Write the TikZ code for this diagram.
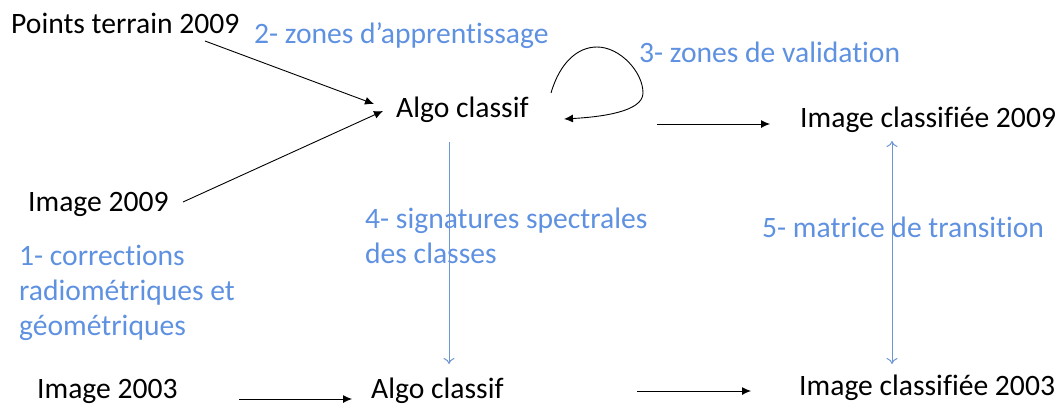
\documentclass[tikz,border=0pt]{standalone}
\usepackage{fontspec}
\setmainfont{Carlito}[Ligatures=NoCommon]
\usetikzlibrary{arrows.meta}
\definecolor{bluetxt}{RGB}{95,145,225}
\definecolor{blueline}{RGB}{110,150,215}
\tikzset{
  lbl/.style={anchor=base west, inner sep=0pt, font=\fontsize{29.6}{35}\selectfont},
  blk/.style={lbl, text=black},
  blu/.style={lbl, text=bluetxt},
  blkarrow/.style={draw=black, line width=0.9pt, -{Latex[length=9pt,width=8pt]}},
  bluarrow/.style={draw=blueline, line width=1pt, -{To[length=6pt,width=11pt]}},
  bluboth/.style={draw=blueline, line width=1pt, {To[length=6pt,width=11pt]}-{To[length=6pt,width=11pt]}}
}
\begin{document}
\begin{tikzpicture}[x=1pt,y=-1pt]
\useasboundingbox (0,0) rectangle (1059,407);
% black texts
\node[blk] (pts) at (11,33) {Points terrain 2009};
\node[blk] (img09) at (28,211) {Image 2009};
\node[blk] (algo1) at (396,117) {Algo classif};
\node[blk] (ic09) at (800,127) {Image classifiée 2009};
\node[blk] (img03) at (37,398.5) {Image 2003};
\node[blk] (algo2) at (371,398.5) {Algo classif};
\node[blk] (ic03) at (799,395) {Image classifiée 2003};
% blue texts
\node[blu] (t2) at (254,43) {2- zones d’apprentissage};
\node[blu] (t3) at (639,62) {3- zones de validation};
\node[blu] (t4a) at (365,228) {4- signatures spectrales};
\node[blu] (t4b) at (365,263) {des classes};
\node[blu] (t5) at (762,237) {5- matrice de transition};
\node[blu] (t1a) at (19,265) {1- corrections};
\node[blu] (t1b) at (19,300) {radiométriques et};
\node[blu] (t1c) at (19,335) {géométriques};
% connector end points
\coordinate (p1s) at (205,41);
\coordinate (p1e) at (374,104);
\coordinate (p2s) at (183,202);
\coordinate (p2e) at (383,111);
\coordinate (ls) at (551,93);
\coordinate (le) at (564,119);
\coordinate (r1s) at (657,124);
\coordinate (r1e) at (770,124);
\coordinate (v1s) at (449,142);
\coordinate (v1e) at (449,364);
\coordinate (v2s) at (892,141);
\coordinate (v2e) at (892,364);
\coordinate (b1s) at (239,399);
\coordinate (b1e) at (352,399);
\coordinate (b2s) at (637,391);
\coordinate (b2e) at (751,391);
% connectors
\draw[blkarrow] (p1s) -- (p1e);
\draw[blkarrow] (p2s) -- (p2e);
\draw[blkarrow] (ls) .. controls (560,62) and (578,47) .. (597,47)
  .. controls (620,47) and (643,72) .. (643,93)
  .. controls (643,112) and (600,117) .. (le);
\draw[blkarrow] (r1s) -- (r1e);
\draw[bluarrow] (v1s) -- (v1e);
\draw[bluboth] (v2s) -- (v2e);
\draw[blkarrow] (b1s) -- (b1e);
\draw[blkarrow] (b2s) -- (b2e);
\end{tikzpicture}
\end{document}
